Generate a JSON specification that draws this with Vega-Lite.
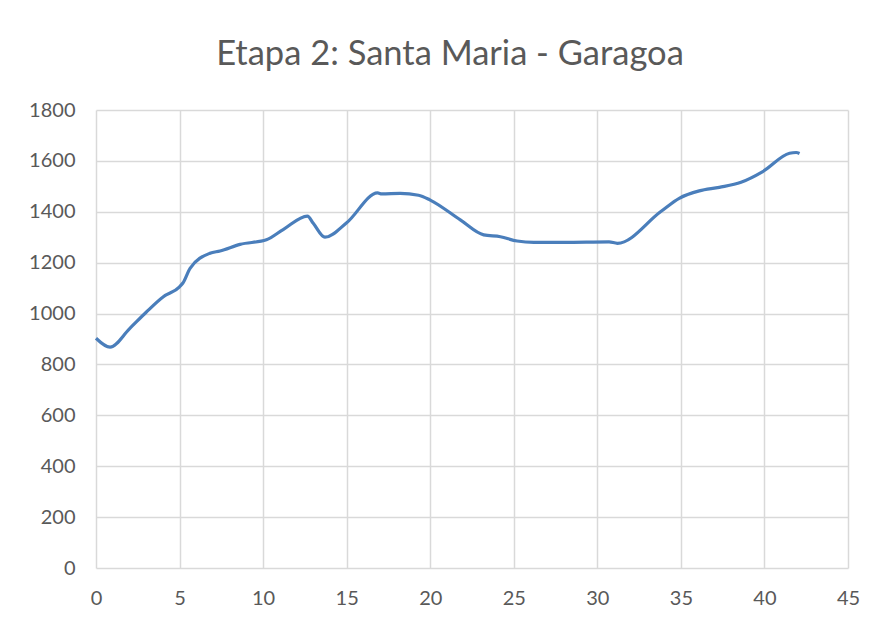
{
  "$schema": "https://vega.github.io/schema/vega-lite/v6.json",
  "width": 752,
  "height": 458,
  "autosize": {"type": "none"},
  "padding": {"left": 96, "top": 110, "right": 34, "bottom": 54},
  "background": "white",
  "title": {
    "text": "Etapa 2: Santa Maria - Garagoa",
    "font": "Lato",
    "fontSize": 34.5,
    "fontWeight": "normal",
    "color": "#595959",
    "anchor": "middle",
    "offset": 28,
    "dx": -22
  },
  "data": {
    "values": [
      {"km": 0, "alt": 903},
      {"km": 0.84, "alt": 868},
      {"km": 2.0, "alt": 940},
      {"km": 3.0, "alt": 1005},
      {"km": 4.03, "alt": 1066},
      {"km": 5.0, "alt": 1105},
      {"km": 5.2, "alt": 1120},
      {"km": 5.63, "alt": 1178},
      {"km": 6.82, "alt": 1237},
      {"km": 7.42, "alt": 1246},
      {"km": 8.62, "alt": 1272},
      {"km": 10.2, "alt": 1290},
      {"km": 11.2, "alt": 1330},
      {"km": 12.65, "alt": 1383},
      {"km": 13.0, "alt": 1355},
      {"km": 13.7, "alt": 1300},
      {"km": 15.0, "alt": 1357},
      {"km": 16.85, "alt": 1474},
      {"km": 17.1, "alt": 1470},
      {"km": 18.2, "alt": 1472},
      {"km": 19.3, "alt": 1465},
      {"km": 20.0, "alt": 1446},
      {"km": 21.8, "alt": 1368},
      {"km": 23.2, "alt": 1309},
      {"km": 24.2, "alt": 1302},
      {"km": 25.2, "alt": 1285},
      {"km": 26.2, "alt": 1280},
      {"km": 28.0, "alt": 1280},
      {"km": 30.7, "alt": 1282},
      {"km": 31.2, "alt": 1276},
      {"km": 33.8, "alt": 1401},
      {"km": 34.9, "alt": 1453},
      {"km": 36.1, "alt": 1482},
      {"km": 37.3, "alt": 1496},
      {"km": 38.6, "alt": 1516},
      {"km": 39.9, "alt": 1558},
      {"km": 41.5, "alt": 1630},
      {"km": 41.9, "alt": 1633},
      {"km": 42.1, "alt": 1629}
    ]
  },
  "mark": {"type": "line", "color": "#4a7ebb", "strokeWidth": 3.2, "interpolate": "monotone", "clip": false},
  "encoding": {
    "x": {
      "field": "km",
      "type": "quantitative",
      "scale": {"domain": [0, 45], "nice": false, "zero": false},
      "axis": {"values": [0,5,10,15,20,25,30,35,40,45], "format": "d", "labelFlush": false, "labelOverlap": false, "title": null, "domain": false, "ticks": false, "labelPadding": 20, "labelFontSize": 20, "labelFont": "Lato", "labelColor": "#595959", "grid": true, "gridColor": "#d9d9d9", "gridWidth": 1.5}
    },
    "y": {
      "field": "alt",
      "type": "quantitative",
      "scale": {"domain": [0, 1800], "nice": false},
      "axis": {"values": [0,200,400,600,800,1000,1200,1400,1600,1800], "format": "d", "labelFlush": false, "labelOverlap": false, "title": null, "domain": false, "ticks": false, "labelPadding": 21, "labelFontSize": 20, "labelFont": "Lato", "labelColor": "#595959", "grid": true, "gridColor": "#d9d9d9", "gridWidth": 1.5}
    }
  },
  "config": {"view": {"stroke": null}}
}
